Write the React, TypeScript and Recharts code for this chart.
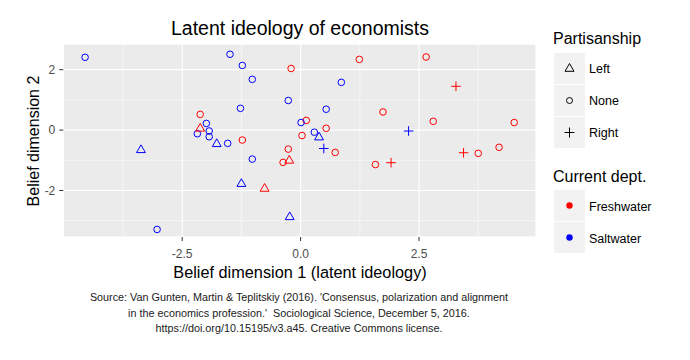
import { CartesianGrid, Scatter, ScatterChart, XAxis, YAxis } from "recharts";

// freshwater (red) departments, by partisanship
const freshLeft = [
  { x: -2.12, y: 0.05 },
  { x: -0.24, y: -1.01 },
  { x: -0.76, y: -1.94 },
];
const freshNone = [
  { x: -0.2, y: 2.04 },
  { x: 1.24, y: 2.34 },
  { x: 2.65, y: 2.42 },
  { x: -2.12, y: 0.52 },
  { x: -1.23, y: -0.33 },
  { x: -0.26, y: -0.63 },
  { x: -0.37, y: -1.07 },
  { x: 0.12, y: 0.32 },
  { x: 0.03, y: -0.18 },
  { x: 1.74, y: 0.6 },
  { x: 2.8, y: 0.29 },
  { x: 4.51, y: 0.25 },
  { x: 0.54, y: 0.06 },
  { x: 0.73, y: -0.74 },
  { x: 1.58, y: -1.14 },
  { x: 3.75, y: -0.77 },
  { x: 4.19, y: -0.57 },
];
const freshRight = [
  { x: 3.28, y: 1.45 },
  { x: 1.91, y: -1.08 },
  { x: 3.44, y: -0.75 },
];

// saltwater (blue) departments
const saltLeft = [
  { x: -1.77, y: -0.46 },
  { x: -3.37, y: -0.66 },
  { x: -1.25, y: -1.78 },
  { x: -0.23, y: -2.88 },
  { x: 0.39, y: -0.24 },
];
const saltNone = [
  { x: -4.55, y: 2.41 },
  { x: -1.49, y: 2.51 },
  { x: -1.23, y: 2.14 },
  { x: -1.02, y: 1.68 },
  { x: -0.26, y: 0.98 },
  { x: -1.27, y: 0.72 },
  { x: -1.99, y: 0.22 },
  { x: -1.93, y: -0.03 },
  { x: -2.18, y: -0.12 },
  { x: -1.93, y: -0.22 },
  { x: -1.54, y: -0.44 },
  { x: -1.02, y: -0.96 },
  { x: -3.03, y: -3.29 },
  { x: 0.01, y: 0.25 },
  { x: 0.86, y: 1.58 },
  { x: 0.54, y: 0.69 },
  { x: 0.29, y: -0.07 },
];
const saltRight = [
  { x: 2.28, y: -0.03 },
  { x: 0.49, y: -0.61 },
];

const X_DOMAIN = [-5.01, 4.97];
const Y_DOMAIN = [-3.54, 2.85];
const X_TICKS = [-2.5, 0, 2.5];
const X_MINOR = [-3.75, -1.25, 1.25, 3.75];
const Y_TICKS = [-2, 0, 2];
const Y_MINOR = [-3, -1, 1];

const RED = "#ff0000";
const BLUE = "#0000ff";
const FONT = "'Liberation Sans', Arial, sans-serif";
const R = 3.3;

function circleShape(color: string) {
  return (p: any) => (
    <circle cx={p.cx} cy={p.cy} r={R} fill="none" stroke={color} strokeWidth={1} />
  );
}

function triangleShape(color: string) {
  return (p: any) => {
    const r = R * 1.555;
    const hw = R * 1.347;
    const d = `M${p.cx},${p.cy - r} L${p.cx + hw},${p.cy + r / 2} L${p.cx - hw},${p.cy + r / 2} Z`;
    return <path d={d} fill="none" stroke={color} strokeWidth={1} />;
  };
}

function plusShape(color: string) {
  return (p: any) => {
    const a = R * 1.45;
    return (
      <path
        d={`M${p.cx - a},${p.cy} H${p.cx + a} M${p.cx},${p.cy - a} V${p.cy + a}`}
        stroke={color}
        strokeWidth={1}
        fill="none"
      />
    );
  };
}

function KeyBox({ top, children }: { top: number; children: any }) {
  return (
    <svg
      width={31}
      height={31}
      style={{ position: "absolute", left: 554, top, background: "#f2f2f2" }}
    >
      {children}
    </svg>
  );
}

const txt = (extra: any) => ({
  position: "absolute" as const,
  fontFamily: FONT,
  whiteSpace: "nowrap" as const,
  lineHeight: 1,
  ...extra,
});

export default function App() {
  return (
    <div style={{ position: "absolute", left: 0, top: 0, width: 690, height: 360, background: "#fff" }}>
      <ScatterChart width={690} height={360} margin={{ top: 44, right: 154, bottom: 93, left: 33.3 }}>
        <XAxis xAxisId="minor" dataKey="x" type="number" domain={X_DOMAIN} ticks={X_MINOR} hide allowDataOverflow />
        <YAxis yAxisId="minor" dataKey="y" type="number" domain={Y_DOMAIN} ticks={Y_MINOR} hide allowDataOverflow />
        <CartesianGrid xAxisId="minor" yAxisId="minor" stroke="#ffffff" strokeWidth={0.55} fill="#ebebeb" />
        <CartesianGrid stroke="#ffffff" strokeWidth={1.1} />
        <XAxis
          dataKey="x"
          type="number"
          domain={X_DOMAIN}
          ticks={X_TICKS}
          allowDataOverflow
          height={30}
          axisLine={false}
          tickSize={4}
          tickMargin={8}
          tickLine={{ stroke: "#333333" }}
          tick={{ fill: "#4d4d4d", fontSize: 12, fontFamily: FONT }}
          tickFormatter={(v) => Number(v).toFixed(1)}
        />
        <YAxis
          dataKey="y"
          type="number"
          domain={Y_DOMAIN}
          ticks={Y_TICKS}
          allowDataOverflow
          width={30}
          axisLine={false}
          tickSize={4}
          tickMargin={4}
          tickLine={{ stroke: "#333333" }}
          tick={{ fill: "#4d4d4d", fontSize: 12, fontFamily: FONT }}
        />
        <Scatter data={freshNone} shape={circleShape(RED)} isAnimationActive={false} />
        <Scatter data={saltNone} shape={circleShape(BLUE)} isAnimationActive={false} />
        <Scatter data={freshLeft} shape={triangleShape(RED)} isAnimationActive={false} />
        <Scatter data={saltLeft} shape={triangleShape(BLUE)} isAnimationActive={false} />
        <Scatter data={freshRight} shape={plusShape(RED)} isAnimationActive={false} />
        <Scatter data={saltRight} shape={plusShape(BLUE)} isAnimationActive={false} />
      </ScatterChart>

      <div style={txt({ left: 300, top: 29, fontSize: 19.5, transform: "translate(-50%, -50%)", color: "#000" })}>
        Latent ideology of economists
      </div>
      <div
        style={txt({
          left: 33.5,
          top: 141,
          fontSize: 16,
          transform: "translate(-50%, -50%) rotate(-90deg)",
          color: "#000",
        })}
      >
        Belief dimension 2
      </div>
      <div style={txt({ left: 300, top: 271.5, fontSize: 16.3, transform: "translate(-50%, -50%)", color: "#000" })}>
        Belief dimension 1 (latent ideology)
      </div>
      <div
        style={txt({
          left: 299,
          top: 313,
          fontSize: 10.8,
          lineHeight: "15.5px",
          textAlign: "center",
          transform: "translate(-50%, -50%)",
          color: "#1a1a1a",
        })}
      >
        Source: Van Gunten, Martin &amp; Teplitskiy (2016). 'Consensus, polarization and alignment
        <br />
        in the economics profession.'&nbsp; Sociological Science, December 5, 2016.
        <br />
        https://doi.org/10.15195/v3.a45. Creative Commons license.
      </div>

      <div style={txt({ left: 553, top: 38.5, fontSize: 16, transform: "translateY(-50%)" })}>Partisanship</div>
      <KeyBox top={53}>
        <path d="M15.5,10.5 L20,18.3 L11,18.3 Z" fill="none" stroke="#000" strokeWidth={1} />
      </KeyBox>
      <KeyBox top={85}>
        <circle cx={15.5} cy={15.5} r={3} fill="none" stroke="#000" strokeWidth={1} />
      </KeyBox>
      <KeyBox top={117}>
        <path d="M10.5,15.5 H20.5 M15.5,10.5 V20.5" stroke="#000" strokeWidth={1} />
      </KeyBox>
      <div style={txt({ left: 589, top: 69, fontSize: 12.5, transform: "translateY(-50%)" })}>Left</div>
      <div style={txt({ left: 589, top: 101, fontSize: 12.5, transform: "translateY(-50%)" })}>None</div>
      <div style={txt({ left: 589, top: 133, fontSize: 12.5, transform: "translateY(-50%)" })}>Right</div>

      <div style={txt({ left: 553, top: 176.5, fontSize: 16, transform: "translateY(-50%)" })}>Current dept.</div>
      <KeyBox top={190}>
        <circle cx={15.5} cy={15.5} r={3.2} fill={RED} />
      </KeyBox>
      <KeyBox top={222}>
        <circle cx={15.5} cy={15.5} r={3.2} fill={BLUE} />
      </KeyBox>
      <div style={txt({ left: 589, top: 207, fontSize: 12.5, transform: "translateY(-50%)" })}>Freshwater</div>
      <div style={txt({ left: 589, top: 239, fontSize: 12.5, transform: "translateY(-50%)" })}>Saltwater</div>
    </div>
  );
}
